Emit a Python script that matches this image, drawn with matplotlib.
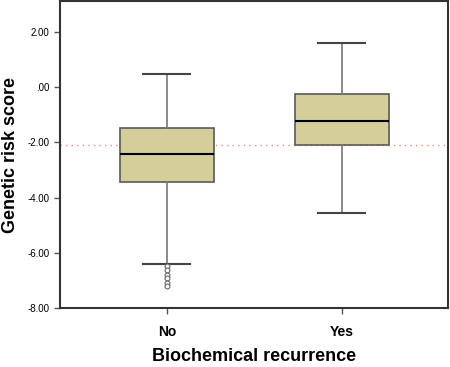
import matplotlib
matplotlib.use("Agg")
import matplotlib.pyplot as plt

plt.rcParams['font.family'] = ['Liberation Sans', 'DejaVu Sans']

# box summary values
groups = ['No', 'Yes']
q1 = [-3.44, -2.08]
med = [-2.43, -1.21]
q3 = [-1.46, -0.24]
whislo = [-6.40, -4.55]
whishi = [0.47, 1.60]
outliers_no = [-6.47, -6.64, -6.79, -6.93, -7.08, -7.20]
outliers_yes = []
ref_line = -2.10
yticks = [2, 0, -2, -4, -6, -8]
ytick_labels = ['2.00', '.00', '-2.00', '-4.00', '-6.00', '-8.00']

stats = []
fliers = [outliers_no, outliers_yes]
for i in range(len(groups)):
    stats.append({'label': groups[i], 'q1': q1[i], 'med': med[i], 'q3': q3[i],
                  'whislo': whislo[i], 'whishi': whishi[i], 'fliers': fliers[i]})

fig = plt.figure(figsize=(4.5, 3.67), dpi=100)
ax = fig.add_axes([0.1333, 0.1608, 0.8623, 0.836])

ax.axhline(ref_line, color='#ee8888', linestyle=(0, (1, 3)), linewidth=1.0, zorder=1)

ax.bxp(stats, positions=[1, 2], widths=0.537, patch_artist=True,
       boxprops=dict(facecolor='#d4cf98', edgecolor='#5a5a5a', linewidth=1.2),
       medianprops=dict(color='black', linewidth=1.5),
       whiskerprops=dict(color='#777777', linewidth=1.2),
       capprops=dict(color='#444444', linewidth=1.5),
       flierprops=dict(marker='o', markersize=3.5, markerfacecolor='white',
                       markeredgecolor='#666666', markeredgewidth=0.8),
       zorder=2)

ax.set_xlim(0.389, 2.606)
ax.set_ylim(-8, 3.12)
ax.set_yticks(yticks)
ax.set_yticklabels(ytick_labels, fontsize=7)
ax.set_xticks([1, 2])
ax.set_xticklabels(groups, fontsize=10, fontweight='bold')
ax.tick_params(axis='both', direction='out', length=4, color='#555555', width=1)
ax.tick_params(axis='x', pad=8)

for s in ax.spines.values():
    s.set_color('#333333')
    s.set_linewidth(1.5)

ax.set_ylabel('Genetic risk score', fontsize=13, fontweight='bold', labelpad=6)
ax.set_xlabel('Biochemical recurrence', fontsize=13, fontweight='bold', labelpad=7)

fig.savefig('out.png', dpi=100)
